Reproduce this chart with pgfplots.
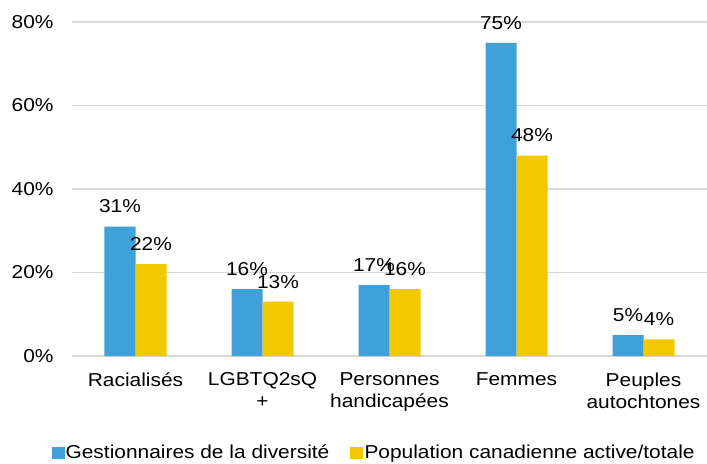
\documentclass[border=0pt]{standalone}
\usepackage{pgfplots}
\pgfplotsset{compat=1.18}
\usepackage{fontspec}
\setmainfont{Liberation Sans}[FakeStretch=1.12]
\definecolor{divblue}{RGB}{64,160,216}
\definecolor{popyellow}{RGB}{242,200,0}
\definecolor{gridgray}{RGB}{217,217,217}

\begin{document}
\begin{tikzpicture}
\begin{axis}[
  scale only axis, width=476.25pt, height=250.5pt,
  at={(0,0)}, anchor=south west,
  font=\fontsize{14}{16.5}\selectfont,
  ybar=0pt, bar width=23.25pt,
  xmin=-0.5, xmax=4.5, ymin=0, ymax=80,
  xtick={0,1,2,3,4},
  xticklabels={Racialisés, LGBTQ2sQ\\+, Personnes\\handicapées, Femmes, Peuples\\autochtones},
  xticklabel style={align=center, yshift=-9pt},
  ytick={0,20,40,60,80},
  yticklabel={\pgfmathprintnumber{\tick}\%},
  /pgf/number format/assume math mode=true,
  major tick length=0pt,
  axis line style={draw=none},
  ymajorgrids, grid style={gridgray, line width=0.9pt},
  yticklabel style={xshift=-10.3pt},
  nodes near coords={\pgfmathprintnumber{\pgfplotspointmeta}\%},
  nodes near coords style={yshift=6.6pt},
  legend style={at={(0.475,-0.29)}, anchor=center, draw=none, fill=none,
    legend columns=2, column sep=0pt, nodes={inner xsep=0.8pt},
    /tikz/every even column/.append style={column sep=15pt}},
  legend image code/.code={\fill[#1] (0pt,-4.5pt) rectangle (9.75pt,4.5pt);},
]
\addplot[fill=divblue, draw=none] coordinates {(0,31) (1,16) (2,17) (3,75) (4,5)};
\addplot[fill=popyellow, draw=none] coordinates {(0,22) (1,13) (2,16) (3,48) (4,4)};
\legend{Gestionnaires de la diversité, Population canadienne active/totale}
\end{axis}
\pgfresetboundingbox
\path (-54pt,-81pt) rectangle (476.25pt,267pt);
\end{tikzpicture}
\end{document}
